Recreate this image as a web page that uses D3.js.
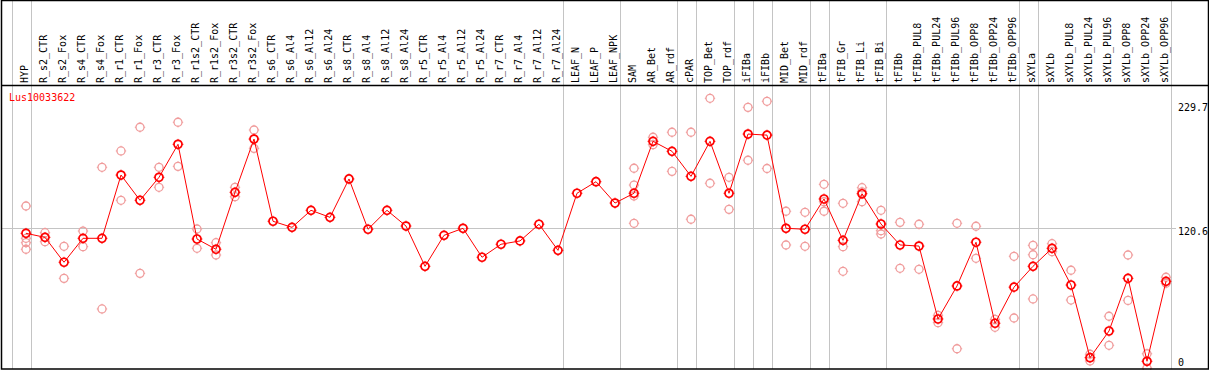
<!DOCTYPE html>
<head>
  <meta charset="utf-8">
  <script src="https://d3js.org/d3.v7.min.js"></script>
  <style>
    body { margin: 0; background: #fff; }
    text { font-family: "DejaVu Sans Mono", monospace; font-size: 10px; }
  </style>
</head>
<body>
  <script>
    var geneName = "Lus10033622";

    var categories = ["HYP", "R_s2_CTR", "R_s2_Fox", "R_s4_CTR", "R_s4_Fox", "R_r1_CTR", "R_r1_Fox",
      "R_r3_CTR", "R_r3_Fox", "R_r1s2_CTR", "R_r1s2_Fox", "R_r3s2_CTR", "R_r3s2_Fox", "R_s6_CTR",
      "R_s6_Al4", "R_s6_Al12", "R_s6_Al24", "R_s8_CTR", "R_s8_Al4", "R_s8_Al12", "R_s8_Al24",
      "R_r5_CTR", "R_r5_Al4", "R_r5_Al12", "R_r5_Al24", "R_r7_CTR", "R_r7_Al4", "R_r7_Al12",
      "R_r7_Al24", "LEAF_N", "LEAF_P", "LEAF_NPK", "SAM", "AR_Bet", "AR_rdf", "cPAR", "TOP_Bet",
      "TOP_rdf", "iFIBa", "iFIBb", "MID_Bet", "MID_rdf", "tFIBa", "tFIB_Gr", "tFIB_Li", "tFIB_Bi",
      "tFIBb", "tFIBb_PUL8", "tFIBb_PUL24", "tFIBb_PUL96", "tFIBb_OPP8", "tFIBb_OPP24",
      "tFIBb_OPP96", "sXYLa", "sXYLb", "sXYLb_PUL8", "sXYLb_PUL24", "sXYLb_PUL96", "sXYLb_OPP8",
      "sXYLb_OPP24", "sXYLb_OPP96"];

    var means = [116.4, 113.0, 92.1, 112.2, 112.2, 165.3, 144.1, 163.4, 191.1, 111.6, 103.0, 150.8,
      195.5, 126.5, 121.4, 135.7, 129.8, 162.0, 119.8, 135.7, 122.5, 88.7, 114.7, 120.6, 96.3,
      107.2, 110.0, 124.0, 102.1, 150.0, 159.7, 141.8, 150.0, 193.6, 185.2, 164.2, 193.6, 150.0,
      199.7, 198.8, 120.6, 119.8, 145.2, 110.5, 149.6, 124.2, 106.6, 105.7, 44.5, 72.2, 108.9,
      40.9, 71.2, 88.7, 103.8, 73.0, 12.0, 34.4, 78.6, 9.0, 76.1];

    var replicates = [[139.3, 112.2, 108.5, 103.0], [116.9, 109.4], [105.5, 78.6], [118.3, 105.2],
      [171.8, 52.9], [185.5, 144.1], [205.4, 82.8], [171.8, 155.0], [209.6, 172.6], [120.0, 103.8],
      [108.5, 98.2], [155.0, 147.1], [203.1, 187.7],
      [], [], [], [], [], [], [], [], [], [], [], [], [], [], [], [],
      [], [], [],
      [171.0, 156.9, 147.7, 124.8], [197.0, 190.8], [201.2, 168.4], [201.2, 128.2], [229.7, 158.4],
      [163.4, 136.5], [222.1, 177.7], [227.2, 170.8], [134.9, 106.6], [134.0, 105.5],
      [157.5, 142.9, 134.9], [141.6, 105.2, 84.5], [154.7, 151.2, 142.9], [135.7, 118.6, 115.8],
      [125.6, 87.0], [124.0, 86.2], [47.6, 41.4], [124.8, 19.5], [122.3, 95.4], [44.2, 37.5],
      [97.1, 45.3], [106.3, 98.4, 61.3], [107.7, 101.0], [85.4, 60.4], [14.9, 9.3], [46.8, 22.4],
      [98.2, 60.1], [15.3, 3.3], [79.5, 74.5]];

    // group separators: a grey line right after these column indices
    var separators = [-1, 0, 28, 31, 34, 35, 37, 38, 39, 41, 42, 45, 52, 53, 60];

    var yTicks = [0, 120.6, 229.7];

    var width = 1209, height = 370;
    var headerBottom = 85, plotBottom = 369;
    var left = 1, right = 1208;

    var svg = d3.select("body").append("svg")
      .attr("width", width)
      .attr("height", height);

    var x = d3.scalePoint()
      .domain(categories)
      .range([26, 1166]);
    var step = x.step();

    var y = d3.scaleLinear()
      .domain([0, 229.7])
      .range([372, 98.3]);

    function sepX(i) { return 26 + i * step + 4.5; }

    // vertical separators
    svg.selectAll("line.sep").data(separators)
      .enter().append("line")
        .attr("class", "sep")
        .attr("x1", function(d) { return Math.round(sepX(d)) + 0.5; })
        .attr("x2", function(d) { return Math.round(sepX(d)) + 0.5; })
        .attr("y1", 0)
        .attr("y2", plotBottom)
        .attr("stroke", "#c4c4c4")
        .attr("stroke-width", 1);

    // horizontal grid line at the middle tick
    svg.append("line")
      .attr("x1", left).attr("x2", 1176)
      .attr("y1", Math.round(y(120.6)) + 0.5)
      .attr("y2", Math.round(y(120.6)) + 0.5)
      .attr("stroke", "#c4c4c4");

    // header labels
    svg.selectAll("text.cat").data(categories)
      .enter().append("text")
        .attr("class", "cat")
        .attr("transform", function(d) { return "translate(" + (x(d) + 1.5) + "," + 83 + ") rotate(-90)"; })
        .attr("fill", "#000")
        .text(function(d) { return d; });

    // y tick labels at the right
    svg.selectAll("text.tick").data(yTicks)
      .enter().append("text")
        .attr("class", "tick")
        .attr("x", 1178)
        .attr("y", function(d) { return Math.max(110.7, Math.min(365.7, y(d) + 7)); })
        .attr("fill", "#000")
        .text(function(d) { return d; });

    svg.append("text")
      .attr("x", 9)
      .attr("y", 101)
      .attr("fill", "#ff0000")
      .text(geneName);

    // marker: circle with four small ticks
    function marker(g, r, t) {
      g.append("circle").attr("r", r).attr("fill", "none");
      g.append("path")
        .attr("d", "M0," + (-r - t) + "V" + (-r) + "M0," + r + "V" + (r + t) +
                   "M" + (-r - t) + ",0H" + (-r) + "M" + r + ",0H" + (r + t))
        .attr("fill", "none")
        .attr("stroke-width", 1);
    }

    // replicate points
    var reps = [];
    replicates.forEach(function(vals, i) {
      vals.forEach(function(v) { reps.push({c: categories[i], v: v}); });
    });

    svg.selectAll("g.rep").data(reps)
      .enter().append("g")
        .attr("class", "rep")
        .attr("transform", function(d) { return "translate(" + x(d.c) + "," + y(d.v) + ")"; })
        .attr("stroke", "#f09c9c")
        .attr("stroke-width", 1.3)
        .each(function() { marker(d3.select(this), 4, 1.2); });

    // mean line
    var line = d3.line()
      .x(function(d, i) { return x(categories[i]); })
      .y(function(d) { return y(d); });

    svg.append("path")
      .datum(means)
      .attr("d", line)
      .attr("fill", "none")
      .attr("stroke", "#ff0000")
      .attr("stroke-width", 1);

    svg.selectAll("g.mean").data(means)
      .enter().append("g")
        .attr("class", "mean")
        .attr("transform", function(d, i) { return "translate(" + x(categories[i]) + "," + y(d) + ")"; })
        .attr("stroke", "#ff0000")
        .attr("stroke-width", 1.7)
        .each(function() { marker(d3.select(this), 4, 1.4); });

    // frame
    svg.append("rect")
      .attr("x", left + 0.5).attr("y", 0.5)
      .attr("width", right - left).attr("height", plotBottom - 0.5)
      .attr("fill", "none")
      .attr("stroke", "#000")
      .attr("stroke-width", 1.5);

    svg.append("line")
      .attr("x1", left).attr("x2", right)
      .attr("y1", headerBottom + 0.5).attr("y2", headerBottom + 0.5)
      .attr("stroke", "#000")
      .attr("stroke-width", 1.5);
  </script>
</body>
